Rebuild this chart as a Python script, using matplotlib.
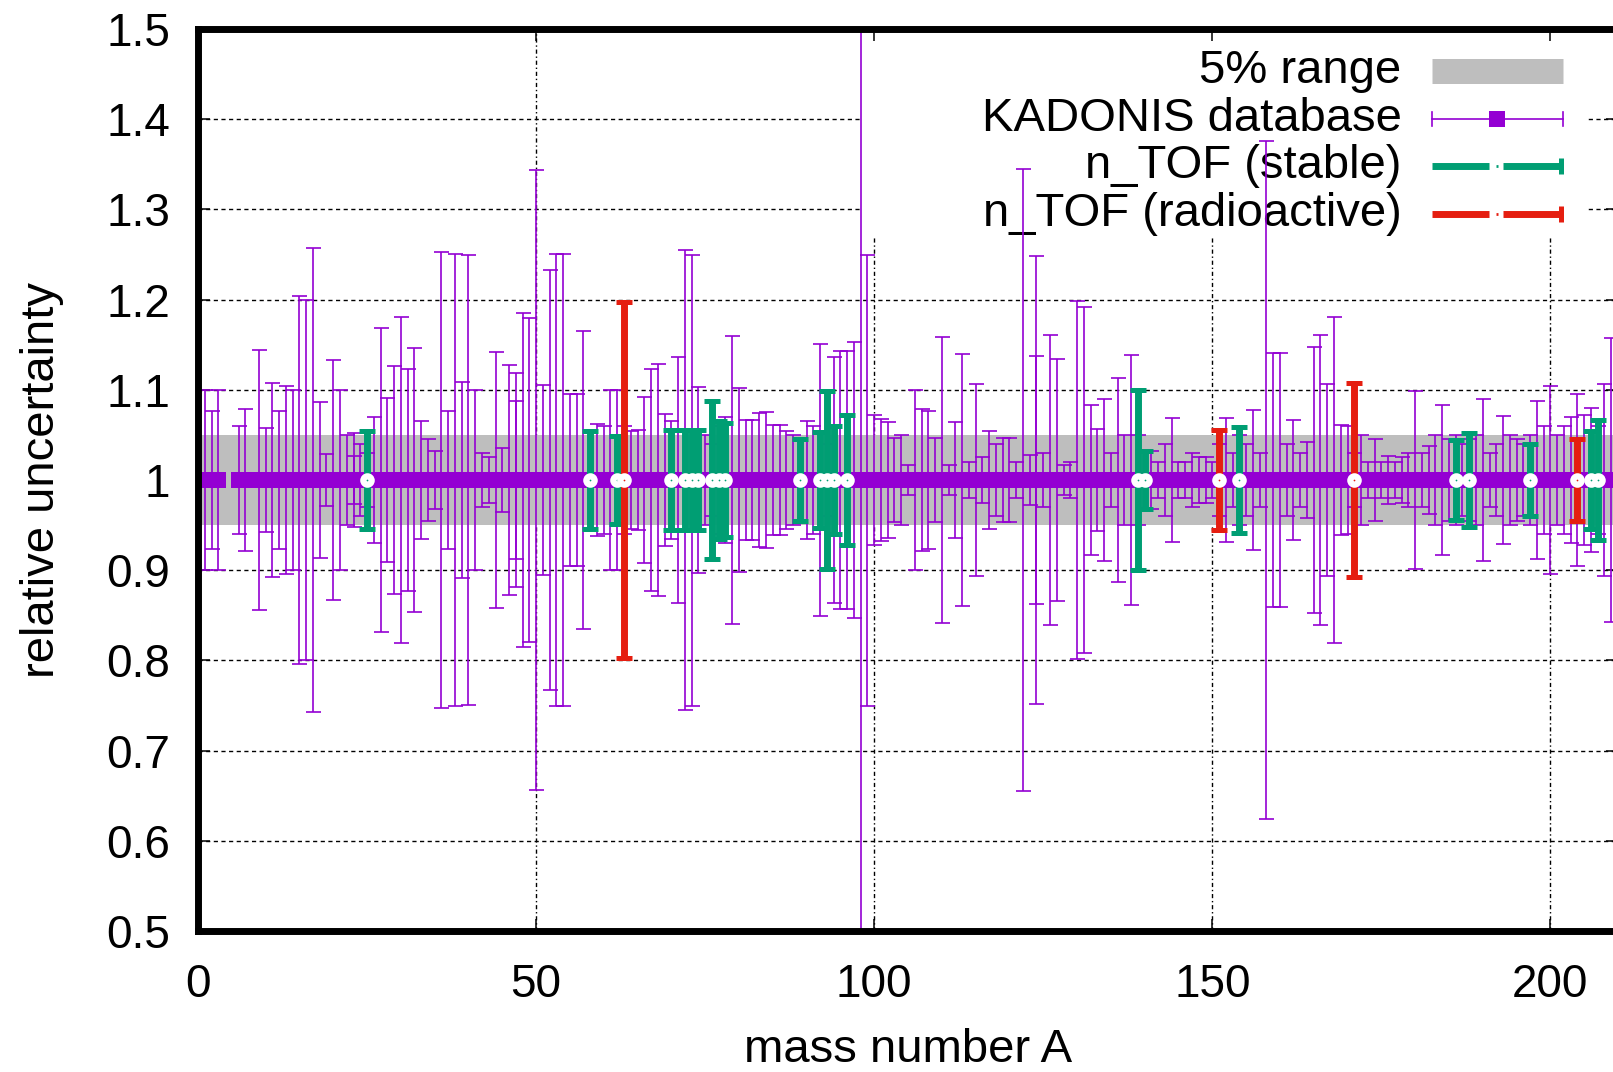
import matplotlib
matplotlib.use("Agg")
import matplotlib.pyplot as plt
from matplotlib.patches import Rectangle

plt.rcParams["font.family"] = ["Liberation Sans", "DejaVu Sans"]

# KADONIS relative uncertainties (symmetric, around 1)
kad_A = [1, 2, 3, 6, 7, 9, 10, 11, 12, 13, 14, 15, 16, 17, 18, 19, 20,
         21, 22, 23, 23, 24, 25, 26, 27, 28, 29, 30, 31, 32, 33, 34, 35, 36,
         37, 38, 39, 40, 41, 42, 43, 44, 45, 46, 47, 47, 48, 49, 50, 51, 52,
         53, 54, 55, 56, 57, 58, 59, 60, 61, 62, 63, 64, 65, 66, 67, 68, 69,
         70, 71, 72, 73, 74, 75, 76, 77, 78, 79, 80, 81, 82, 83, 84, 85, 86,
         87, 88, 89, 90, 91, 92, 93, 94, 95, 96, 97, 98, 99, 100, 101, 102,
         103, 104, 105, 106, 107, 108, 109, 110, 111, 112, 113, 114, 115, 116,
         117, 118, 119, 120, 121, 122, 123, 124, 124, 125, 126, 127, 128, 129,
         130, 131, 132, 133, 134, 135, 136, 137, 138, 139, 140, 141, 142, 143,
         144, 145, 146, 147, 148, 149, 150, 151, 152, 153, 154, 155, 156, 157,
         158, 159, 160, 161, 162, 163, 164, 165, 166, 167, 168, 169, 170, 171,
         172, 173, 174, 175, 176, 177, 178, 179, 180, 181, 182, 183, 184, 185,
         186, 187, 188, 189, 190, 191, 192, 193, 194, 195, 196, 197, 198, 199,
         200, 201, 202, 203, 204, 205, 206, 207, 208, 209]
kad_err = [0.100, 0.077, 0.100, 0.060, 0.079, 0.144, 0.058, 0.107,
           0.077, 0.104, 0.100, 0.204, 0.200, 0.257, 0.086, 0.029, 0.133,
           0.100, 0.050, 0.027, 0.052, 0.040, 0.030, 0.070, 0.169, 0.091,
           0.126, 0.181, 0.123, 0.146, 0.065, 0.046, 0.032, 0.253, 0.076,
           0.251, 0.109, 0.249, 0.100, 0.030, 0.025, 0.142, 0.036, 0.127,
           0.119, 0.088, 0.185, 0.180, 0.344, 0.105, 0.233, 0.251, 0.251,
           0.095, 0.095, 0.165, 0.055, 0.062, 0.060, 0.100, 0.100, 0.060,
           0.054, 0.055, 0.092, 0.123, 0.129, 0.073, 0.065, 0.136, 0.255,
           0.250, 0.103, 0.050, 0.040, 0.060, 0.070, 0.160, 0.102, 0.067,
           0.067, 0.074, 0.075, 0.061, 0.061, 0.054, 0.050, 0.045, 0.065,
           0.060, 0.151, 0.040, 0.136, 0.143, 0.143, 0.153, 0.620, 0.250,
           0.072, 0.068, 0.064, 0.047, 0.050, 0.017, 0.100, 0.079, 0.076,
           0.047, 0.159, 0.017, 0.064, 0.140, 0.020, 0.106, 0.025, 0.054,
           0.040, 0.047, 0.047, 0.020, 0.345, 0.028, 0.248, 0.138, 0.030,
           0.161, 0.134, 0.017, 0.020, 0.199, 0.192, 0.083, 0.057, 0.090,
           0.030, 0.113, 0.050, 0.139, 0.050, 0.032, 0.032, 0.020, 0.040,
           0.069, 0.020, 0.020, 0.030, 0.026, 0.026, 0.020, 0.040, 0.069,
           0.030, 0.050, 0.040, 0.078, 0.030, 0.376, 0.141, 0.141, 0.040,
           0.067, 0.030, 0.042, 0.148, 0.161, 0.106, 0.181, 0.061, 0.060,
           0.030, 0.050, 0.020, 0.046, 0.020, 0.027, 0.020, 0.025, 0.030,
           0.099, 0.030, 0.038, 0.050, 0.083, 0.045, 0.050, 0.040, 0.045,
           0.050, 0.090, 0.030, 0.040, 0.071, 0.050, 0.045, 0.040, 0.050,
           0.088, 0.060, 0.104, 0.050, 0.060, 0.070, 0.095, 0.072, 0.080,
           0.060, 0.106, 0.157]

# n_TOF stable isotopes
stable_A = [25, 58, 62, 70, 72, 73, 74, 76, 77, 78, 89, 92, 93, 94, 96,
            139, 140, 154, 186, 188, 197, 206, 207]
stable_err = [0.054, 0.054, 0.049, 0.055, 0.055, 0.055, 0.055, 0.088, 0.065,
              0.063, 0.046, 0.053, 0.099, 0.060, 0.072, 0.100, 0.032, 0.059,
              0.044, 0.052, 0.040, 0.054, 0.066]

# n_TOF radioactive isotopes
radio_A = [63, 151, 171, 204]
radio_err = [0.197, 0.055, 0.107, 0.045]

CENTER = 1.0
BAND = 0.05

x_ticks = [0, 50, 100, 150, 200]
y_ticks = [0.5, 0.6, 0.7, 0.8, 0.9, 1.0, 1.1, 1.2, 1.3, 1.4, 1.5]
y_labels = ["0.5", "0.6", "0.7", "0.8", "0.9", "1", "1.1", "1.2", "1.3",
            "1.4", "1.5"]

legend_labels = ["5% range", "KADONIS database", "n_TOF (stable)",
                 "n_TOF (radioactive)"]

PURPLE = "#9400d3"
GREEN = "#009e73"
RED = "#e51e10"
GRAY = "#bebebe"

fig = plt.figure(figsize=(16.13, 10.72), dpi=100)
ax = fig.add_axes([198 / 1613, 1 - 931 / 1072, 1420 / 1613, 902 / 1072])
ax.set_xlim(0, 210)
ax.set_ylim(0.5, 1.5)

# grid (drawn by hand so the key box can sit on top of it)
for y in y_ticks[1:-1]:
    ax.axhline(y, color="black", lw=1.0, ls=(0, (3, 2.5)), zorder=0.5)
for x in x_ticks[1:]:
    ax.axvline(x, color="black", lw=1.0, ls=(0, (3, 2, 1, 2)), zorder=0.5)

# opaque key box
ax.add_patch(Rectangle((98.4, 1.27), 107.1, 0.25, facecolor="white",
                       edgecolor="none", zorder=0.8))

# 5% band
ax.fill_between([0, 210], CENTER - BAND, CENTER + BAND, color=GRAY,
                lw=0, zorder=1)

kad_y = [CENTER] * len(kad_A)
ax.errorbar(kad_A, kad_y, yerr=kad_err, fmt="none", ecolor=PURPLE,
            elinewidth=1.2, capsize=5.4, capthick=1.2, zorder=2)
ax.plot(kad_A, kad_y, "s", color=PURPLE, ms=11.3, mew=0, zorder=2.1)

for A, err, col, z in [(stable_A, stable_err, GREEN, 3),
                       (radio_A, radio_err, RED, 4)]:
    yy = [CENTER] * len(A)
    ax.errorbar(A, yy, yerr=err, fmt="none", ecolor=col, elinewidth=5,
                capsize=5.8, capthick=3.6, zorder=z)
    ax.plot(A, yy, "o", color="white", ms=10.5, mew=0, zorder=z + 0.1)
    ax.plot(A, yy, ".", color=col, ms=2.5, mew=0, zorder=z + 0.2)

# key
rows = [1.453, 1.400, 1.348, 1.295]
xs0, xs1, xmid = 182.5, 201.8, 192.1
for lab, yr in zip(legend_labels, rows):
    ax.text(178.0, yr, lab, ha="right", va="center", fontsize=34,
            zorder=1.5)
ax.plot([xs0, xs1], [rows[0], rows[0]], color=GRAY, lw=18,
        solid_capstyle="butt", zorder=1.5)
ax.plot([xs0, xs1], [rows[1], rows[1]], color=PURPLE, lw=1.2, zorder=1.5)
ax.plot([xs0, xs0], [rows[1] - 0.008, rows[1] + 0.008], color=PURPLE,
        lw=1.2, zorder=1.5)
ax.plot([xs1, xs1], [rows[1] - 0.008, rows[1] + 0.008], color=PURPLE,
        lw=1.2, zorder=1.5)
ax.plot([xmid], [rows[1]], "s", color=PURPLE, ms=11.3, mew=0, zorder=1.6)
for col, yr in [(GREEN, rows[2]), (RED, rows[3])]:
    ax.plot([xs0, xmid - 1.2], [yr, yr], color=col, lw=5,
            solid_capstyle="butt", zorder=1.5)
    ax.plot([xmid + 0.9, xs1], [yr, yr], color=col, lw=5,
            solid_capstyle="butt", zorder=1.5)
    ax.plot([xmid - 0.2, xmid + 0.2], [yr, yr], color=col, lw=2,
            solid_capstyle="butt", zorder=1.5)
    ax.plot([xs1 - 0.3, xs1 - 0.3], [yr - 0.009, yr + 0.009], color=col,
            lw=3.6, solid_capstyle="butt", zorder=1.5)

ax.set_xticks(x_ticks)
ax.set_yticks(y_ticks)
ax.set_yticklabels(y_labels)
ax.tick_params(direction="in", length=8.6, width=1.1, top=True, right=True,
               labelsize=33)
ax.tick_params(axis="y", pad=20)
ax.tick_params(axis="x", pad=23)
for sp in ax.spines.values():
    sp.set_linewidth(5)

fig.text(908 / 1613, 1 - 1050 / 1072, "mass number A", ha="center",
         va="center", fontsize=34)
fig.text(42 / 1613, 1 - 480 / 1072, "relative uncertainty", rotation=90,
         ha="center", va="center", fontsize=34)

fig.savefig("out.png", dpi=100)
